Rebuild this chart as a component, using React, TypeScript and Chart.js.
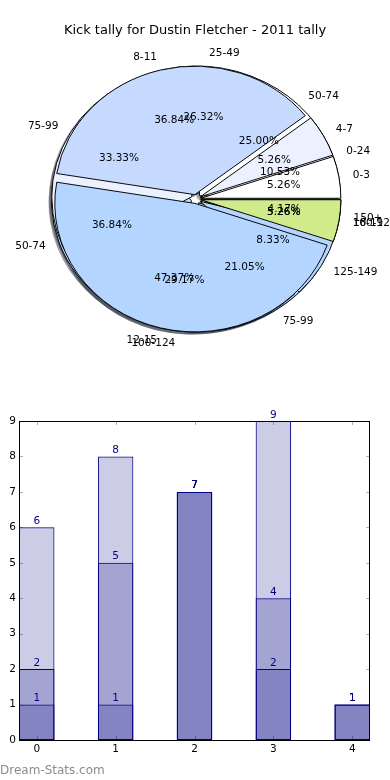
import React, { useEffect, useRef } from 'react';
import { Chart, registerables } from 'chart.js';

Chart.register(...registerables);

// ---------- data ----------
const TITLE = 'Kick tally for Dustin Fletcher - 2011 tally';
const WATERMARK = 'Dream-Stats.com';

const pieLabelsA = ['0-3', '4-7', '8-11', '12-15', '16-19'];
const pieValuesA = [1, 1, 7, 9, 1];
const pieLabelsB = ['0-24', '25-49', '50-74', '75-99', '100-124'];
const pieValuesB = [2, 5, 7, 4, 1];
const pieLabelsC = ['50-74', '75-99', '100-124', '125-149', '150+'];
const pieValuesC = [6, 8, 7, 2, 1];
const sliceColors = ['#FFFFFF', '#EBF1FF', '#C6DAFF', '#B4D5FF', '#D0EB8C'];

const barCategories = [0, 1, 2, 3, 4];
const barSeries1 = [1, 1, 7, 2, 1];
const barSeries2 = [2, 5, 7, 4, 1];
const barSeries3 = [6, 8, 7, 9, 1];
const yTickValues = [0, 1, 2, 3, 4, 5, 6, 7, 8, 9];

// ---------- style constants ----------
const FONT = '"DejaVu Sans", sans-serif';
const EXPLODE = 0.035;
const KY = 0.918; // vertical squash of the pie (non-equal aspect)
const SHADOW = 0.02;
const LABEL_DIST = 1.1;
const PCT_DIST = 0.6;

function shadowColor(hex: string) {
  const h = hex.replace('#', '');
  const r = parseInt(h.slice(0, 2), 16);
  const g = parseInt(h.slice(2, 4), 16);
  const b = parseInt(h.slice(4, 6), 16);
  return `rgba(${Math.round(r * 0.3)},${Math.round(g * 0.3)},${Math.round(b * 0.3)},0.5)`;
}

const pieLabelSets = [pieLabelsA, pieLabelsC, pieLabelsB];

const pieLayers = {
  id: 'pieLayers',
  beforeDatasetsDraw(chart: any) {
    const ctx = chart.ctx;
    const { left, right, top, bottom } = chart.chartArea;
    const cx = (left + right) / 2;
    const cy = (top + bottom) / 2;
    const R = Math.min(right - left, bottom - top) / 2;
    const metas = chart.getSortedVisibleDatasetMetas().slice().reverse();
    metas.forEach((m: any) =>
      m.data.forEach((a: any) => {
        a.outerRadius = R;
        a.innerRadius = 0;
        a.x = cx;
        a.y = cy;
      })
    );
    const flip = () => {
      ctx.translate(cx, cy);
      ctx.scale(1, -KY);
      ctx.translate(-cx, -cy);
    };
    // shadows (all under all wedges)
    metas.forEach((m: any) =>
      m.data.forEach((a: any) => {
        if (a.endAngle - a.startAngle <= 0) return;
        const mid = (a.startAngle + a.endAngle) / 2;
        ctx.save();
        ctx.translate(-SHADOW * R, SHADOW * R * KY);
        flip();
        ctx.translate(Math.cos(mid) * EXPLODE * R, Math.sin(mid) * EXPLODE * R);
        ctx.beginPath();
        ctx.moveTo(cx, cy);
        ctx.arc(cx, cy, R, a.startAngle, a.endAngle);
        ctx.closePath();
        ctx.fillStyle = shadowColor(a.options.backgroundColor);
        ctx.fill();
        ctx.restore();
      })
    );
    // wedges
    metas.forEach((m: any) =>
      m.data.forEach((a: any) => {
        const mid = (a.startAngle + a.endAngle) / 2;
        ctx.save();
        flip();
        ctx.translate(Math.cos(mid) * EXPLODE * R, Math.sin(mid) * EXPLODE * R);
        a.draw(ctx);
        ctx.restore();
      })
    );
    return false;
  },
  afterDraw(chart: any) {
    const ctx = chart.ctx;
    const { left, right, top, bottom } = chart.chartArea;
    const cx = (left + right) / 2;
    const cy = (top + bottom) / 2;
    const R = Math.min(right - left, bottom - top) / 2;
    ctx.save();
    ctx.font = `10.5px ${FONT}`;
    ctx.fillStyle = '#000';
    ctx.textBaseline = 'middle';
    chart.data.datasets.forEach((ds: any, d: number) => {
      const meta = chart.getDatasetMeta(d);
      const total = ds.data.reduce((s: number, v: number) => s + v, 0);
      const labels = pieLabelSets[d];
      meta.data.forEach((a: any, i: number) => {
        const mid = (a.startAngle + a.endAngle) / 2;
        const c = Math.cos(mid);
        const s = Math.sin(mid);
        const rl = (LABEL_DIST + EXPLODE) * R;
        const lx = cx + c * rl;
        const ly = cy - s * rl * KY;
        ctx.textAlign = c > 0 ? 'left' : 'right';
        ctx.fillText(labels[i], lx, ly);
        const rp = (PCT_DIST + EXPLODE) * R;
        const px = cx + c * rp;
        const py = cy - s * rp * KY;
        ctx.textAlign = 'center';
        ctx.fillText(((ds.data[i] / total) * 100).toFixed(2) + '%', px, py);
      });
    });
    ctx.restore();
  },
};

const barDecor = {
  id: 'barDecor',
  afterDatasetsDraw(chart: any) {
    const ctx = chart.ctx;
    const { left, right, top, bottom } = chart.chartArea;
    const xs = chart.scales.x;
    const ys = chart.scales.y;
    ctx.save();
    // inward tick marks
    ctx.strokeStyle = 'rgba(0,0,0,0.3)';
    ctx.lineWidth = 1;
    ctx.beginPath();
    yTickValues.forEach((v) => {
      const y = Math.round(ys.getPixelForValue(v)) + 0.5;
      ctx.moveTo(left, y);
      ctx.lineTo(left + 4, y);
      ctx.moveTo(right - 4, y);
      ctx.lineTo(right, y);
    });
    barCategories.forEach((v) => {
      const x = Math.round(xs.getPixelForValue(v)) + 0.5;
      ctx.moveTo(x, bottom);
      ctx.lineTo(x, bottom - 4);
      ctx.moveTo(x, top);
      ctx.lineTo(x, top + 4);
    });
    ctx.stroke();
    // frame
    ctx.strokeStyle = '#000';
    ctx.strokeRect(Math.round(left) + 0.5, Math.round(top) + 0.5, Math.round(right - left) - 1, Math.round(bottom - top));
    // value labels
    ctx.fillStyle = '#000080';
    ctx.font = `10.5px ${FONT}`;
    ctx.textAlign = 'center';
    ctx.textBaseline = 'alphabetic';
    chart.data.datasets.forEach((ds: any, d: number) => {
      const meta = chart.getDatasetMeta(d);
      meta.data.forEach((bar: any, i: number) => {
        ctx.fillText(String(ds.data[i].y), bar.x, bar.y - 3.5);
      });
    });
    ctx.restore();
  },
};

export default function App() {
  const pieRef = useRef<HTMLCanvasElement>(null);
  const barRef = useRef<HTMLCanvasElement>(null);

  useEffect(() => {
    const pieDs = (values: number[]) => ({
      data: values,
      backgroundColor: sliceColors,
      borderColor: '#000',
      borderWidth: 1,
      offset: 0,
      hoverOffset: 0,
    });
    const pie = new Chart(pieRef.current as HTMLCanvasElement, {
      type: 'pie',
      data: {
        labels: pieLabelsA,
        datasets: [pieDs(pieValuesA), pieDs(pieValuesC), pieDs(pieValuesB)],
      },
      options: {
        animation: false,
        responsive: false,
        events: [],
        rotation: 90,
        layout: { padding: { left: 56, right: 54, top: 59, bottom: 51 } },
        plugins: { legend: { display: false }, tooltip: { enabled: false } },
      } as any,
      plugins: [pieLayers],
    });

    const barDs = (values: number[]) => ({
      data: barCategories.map((x, i) => ({ x, y: values[i] })),
      backgroundColor: 'rgba(0,0,128,0.2)',
      borderColor: '#000080',
      borderWidth: 1,
      borderSkipped: false,
      grouped: false,
      barPercentage: 0.45,
      categoryPercentage: 1,
    });
    const tickFont = { family: FONT, size: 10.5 };
    const bar = new Chart(barRef.current as HTMLCanvasElement, {
      type: 'bar',
      data: { datasets: [barDs(barSeries1), barDs(barSeries2), barDs(barSeries3)] },
      options: {
        animation: false,
        responsive: false,
        events: [],
        layout: { padding: { left: 0, right: 20, top: 21, bottom: 0 } },
        plugins: { legend: { display: false }, tooltip: { enabled: false } },
        scales: {
          x: {
            type: 'linear',
            offset: false,
            min: -0.225,
            max: 4.225,
            grid: { display: false, drawTicks: false, offset: false },
            border: { display: false },
            ticks: { font: tickFont, color: '#000', padding: 3 },
            afterBuildTicks: (s: any) => {
              s.ticks = barCategories.map((v) => ({ value: v }));
            },
            afterFit: (s: any) => {
              s.height = 40;
            },
          },
          y: {
            min: 0,
            max: 9,
            grid: { display: false, drawTicks: false },
            border: { display: false },
            ticks: { font: tickFont, color: '#000', padding: 3 },
            afterBuildTicks: (s: any) => {
              s.ticks = yTickValues.map((v) => ({ value: v }));
            },
            afterFit: (s: any) => {
              s.width = 19;
            },
          },
        },
      } as any,
      plugins: [barDecor],
    });

    return () => {
      pie.destroy();
      bar.destroy();
    };
  }, []);

  return (
    <div style={{ position: 'absolute', left: 0, top: 0, width: 390, height: 780, background: '#fff', overflow: 'hidden' }}>
      <canvas ref={pieRef} width={390} height={390} style={{ position: 'absolute', left: 0, top: 0 }} />
      <div
        style={{
          position: 'absolute',
          left: 0,
          top: 22,
          width: 390,
          textAlign: 'center',
          font: `13px ${FONT}`,
          lineHeight: '16px',
          color: '#000',
        }}
      >
        {TITLE}
      </div>
      <canvas ref={barRef} width={390} height={380} style={{ position: 'absolute', left: 0, top: 400 }} />
      <div
        style={{
          position: 'absolute',
          left: 0,
          top: 763,
          font: `12px ${FONT}`,
          lineHeight: '14px',
          color: '#8c8c8c',
        }}
      >
        {WATERMARK}
      </div>
    </div>
  );
}
